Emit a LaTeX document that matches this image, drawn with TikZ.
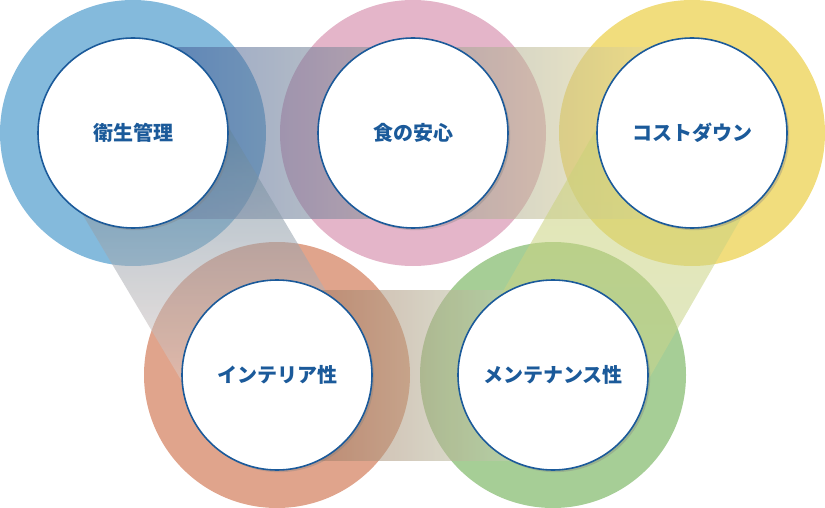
\documentclass[tikz,border=0pt]{standalone}
\usepackage{fontspec}
\newfontfamily\jp{Noto Sans CJK JP}
\usetikzlibrary{calc,shadows}
\definecolor{ringA}{HTML}{6FAED6}
\definecolor{ringB}{HTML}{DFA8BF}
\definecolor{ringC}{HTML}{EFD766}
\definecolor{ringD}{HTML}{DB9478}
\definecolor{ringE}{HTML}{97C584}
\definecolor{txtblue}{HTML}{1B5A9A}
\begin{document}
\begin{tikzpicture}[x=1pt,y=-1pt,
			outer/.style={circle, minimum size=266pt, inner sep=0pt, fill opacity=0.85},
			inner/.style={circle, draw=txtblue, line width=1.6pt, fill=white, minimum size=190pt, inner sep=0pt,
				font=\jp\bfseries\fontsize{20}{24}\selectfont, text=txtblue, drop shadow={opacity=0.35}},
			band/.style={fill opacity=0.55}
				]
			\useasboundingbox (0,0) rectangle (825,508);
			\def\hw{85pt}
			\node[outer,fill=ringA] at (133,133) (o1) {};
			\node[outer,fill=ringB] at (413,133) (o2) {};
			\node[outer,fill=ringC] at (692,133) (o3) {};
			\node[outer,fill=ringD] at (277,375) (o4) {};
			\node[outer,fill=ringE] at (553,375) (o5) {};

			%bands
			\path[band,left color=ringA!60!black!80!blue,right color=ringC!70!white,shading angle=90]
				($(o1)!\hw!90:(o3)$) -- ($(o3)!\hw!-90:(o1)$) -- ($(o3)!\hw!90:(o1)$) -- ($(o1)!\hw!-90:(o3)$) -- cycle;
			\path[band,top color=ringA!70!black,bottom color=ringD!40!white]
				($(o1)!\hw!90:(o4)$) -- ($(o4)!\hw!-90:(o1)$) -- ($(o4)!\hw!90:(o1)$) -- ($(o1)!\hw!-90:(o4)$) -- cycle;
			\path[band,left color=ringD!70!black,right color=ringE!50!white,shading angle=90]
				($(o4)!\hw!90:(o5)$) -- ($(o5)!\hw!-90:(o4)$) -- ($(o5)!\hw!90:(o4)$) -- ($(o4)!\hw!-90:(o5)$) -- cycle;
			\path[band,top color=ringC!60!ringE,bottom color=ringE!60!ringC!80!white]
				($(o3)!\hw!90:(o5)$) -- ($(o5)!\hw!-90:(o3)$) -- ($(o5)!\hw!90:(o3)$) -- ($(o3)!\hw!-90:(o5)$) -- cycle;

			\node[inner] at (o1) (c1) {衛生管理};
			\node[inner] at (o2) (c2) {食の安心};
			\node[inner] at (o3) (c3) {コストダウン};
			\node[inner] at (o4) (c4) {インテリア性};
			\node[inner] at (o5) (c5) {メンテナンス性};
	\end{tikzpicture}
\end{document}
